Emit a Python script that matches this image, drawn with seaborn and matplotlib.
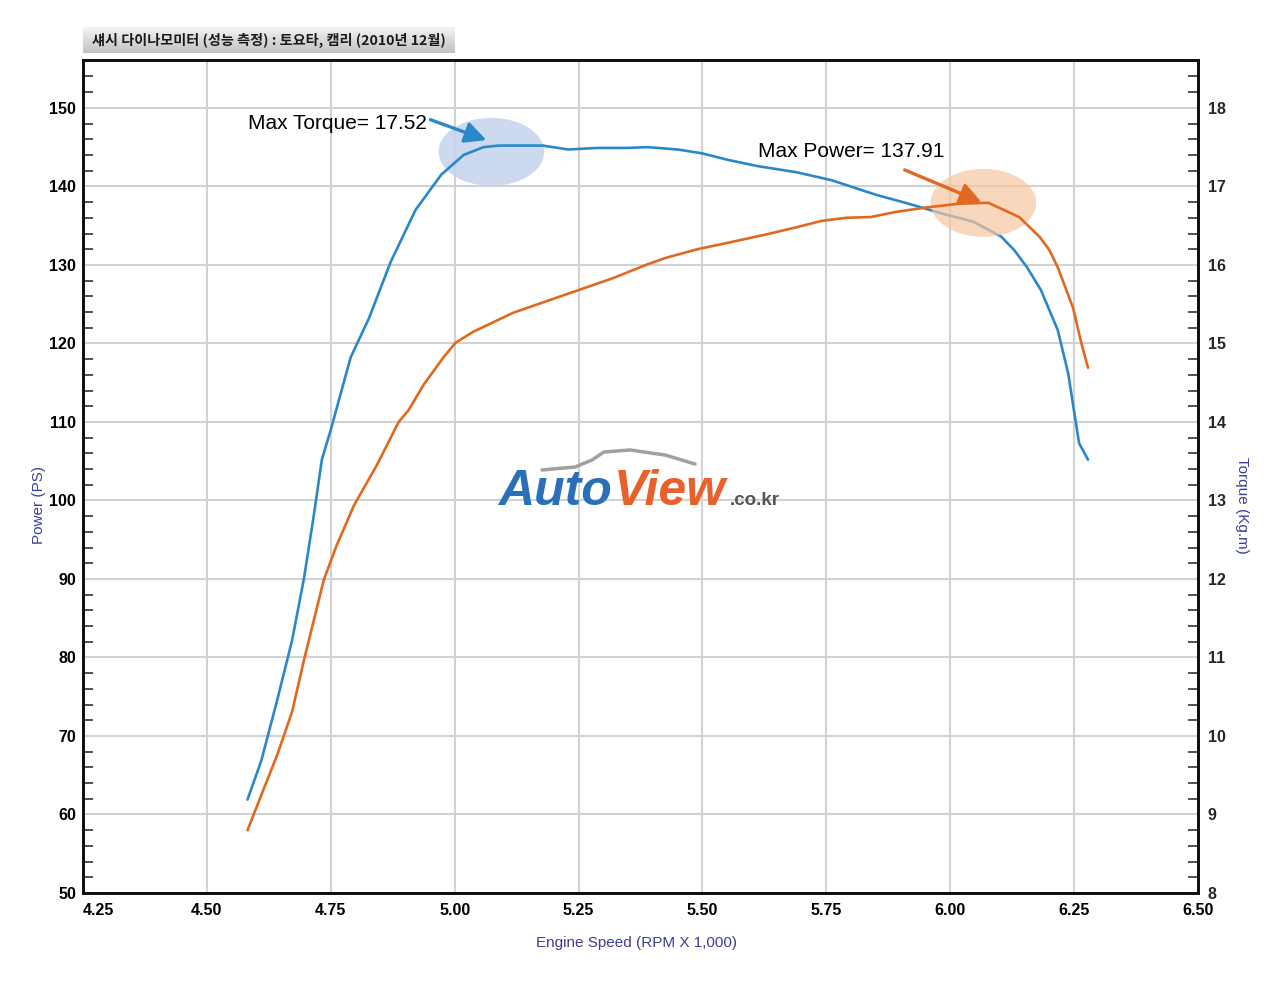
import numpy as np
import matplotlib
matplotlib.use("Agg")
import matplotlib.pyplot as plt
import seaborn as sns
from matplotlib.patches import Ellipse
from matplotlib.lines import Line2D
from matplotlib.ticker import MultipleLocator, FormatStrFormatter

# Torque curve (Kg.m) vs engine speed (x1000 rpm)
torque_rpm = [4.582, 4.61, 4.642, 4.672, 4.696, 4.716, 4.732, 4.75, 4.79, 4.827,
              4.871, 4.921, 4.973, 5.018, 5.058, 5.088, 5.178, 5.229, 5.289, 5.349,
              5.39, 5.45, 5.50, 5.55, 5.61, 5.69, 5.76, 5.852, 5.91, 5.992,
              6.047, 6.103, 6.129, 6.155, 6.183, 6.217, 6.238, 6.26, 6.278]
torque = [9.19, 9.69, 10.46, 11.22, 12.01, 12.82, 13.52, 13.9, 14.82, 15.32,
          16.04, 16.70, 17.15, 17.40, 17.50, 17.52, 17.52, 17.47, 17.49, 17.49,
          17.50, 17.47, 17.42, 17.34, 17.26, 17.18, 17.08, 16.89, 16.79, 16.64,
          16.55, 16.36, 16.19, 15.97, 15.68, 15.17, 14.62, 13.73, 13.52]

# Power curve (PS) vs engine speed
power_rpm = [4.582, 4.61, 4.642, 4.672, 4.696, 4.716, 4.736, 4.762, 4.797, 4.843,
             4.887, 4.907, 4.937, 4.977, 5.002, 5.038, 5.118, 5.209, 5.319, 5.39,
             5.426, 5.49, 5.55, 5.63, 5.69, 5.74, 5.79, 5.84, 5.89, 5.95,
             6.018, 6.077, 6.139, 6.18, 6.20, 6.217, 6.248, 6.264, 6.278]
power = [58.0, 62.5, 67.6, 73.1, 79.7, 84.8, 89.9, 94.3, 99.4, 104.5,
         110.0, 111.5, 114.7, 118.2, 120.1, 121.5, 123.9, 125.9, 128.3, 130.1,
         130.9, 132.0, 132.8, 133.9, 134.8, 135.6, 136.0, 136.1, 136.75, 137.3,
         137.8, 137.91, 136.1, 133.6, 131.9, 129.7, 124.5, 120.2, 116.9]

x_ticks = [4.25, 4.50, 4.75, 5.00, 5.25, 5.50, 5.75, 6.00, 6.25, 6.50]
power_ticks = [50, 60, 70, 80, 90, 100, 110, 120, 130, 140, 150]
torque_ticks = [8, 9, 10, 11, 12, 13, 14, 15, 16, 17, 18]

title = "섀시 다이나모미터 (성능 측정) : 토요타, 캠리 (2010년 12월)"
max_torque_label = "Max Torque= 17.52"
max_power_label = "Max Power= 137.91"

BLUE = "#2b88c8"
ORANGE = "#e0691f"
LABEL_C = "#3b3f96"
SANS = ["Liberation Sans", "DejaVu Sans"]

sns.set_style("white")
plt.rcParams["font.family"] = SANS

fig = plt.figure(figsize=(12.8, 9.86), dpi=100)
W, H = 1280, 986
ax = fig.add_axes([83 / W, 1 - 893 / H, (1198 - 83) / W, (893 - 60) / H])
ax2 = ax.twinx()

# power axis drawn above torque axis so orange highlight sits over the blue line
ax.set_zorder(ax2.get_zorder() + 1)
ax.patch.set_visible(False)

ax.set_xlim(4.25, 6.50)
ax.set_ylim(50, 156.1)
ax2.set_ylim(8, 18.61)

# grid lives on the lower (torque) axis
ax2.xaxis.set_visible(True)
ax2.set_xticks(x_ticks)
ax2.set_yticks(torque_ticks)
ax2.grid(True, color="#d2d2d2", lw=1.5)
ax2.set_axisbelow(True)
ax2.tick_params(axis="x", which="both", bottom=False, top=False,
                labelbottom=False, labeltop=False)

# torque: highlight + line
ax2.add_patch(Ellipse((5.074, 17.44), 0.213, 0.866, facecolor="#c3d3ec",
                      edgecolor="none", alpha=0.85, zorder=1))
sns.lineplot(x=torque_rpm, y=torque, ax=ax2, color=BLUE, lw=1.9, zorder=3)

# power: highlight + line
ax.add_patch(Ellipse((6.067, 137.9), 0.213, 8.66, facecolor="#f6c6a1",
                     edgecolor="none", alpha=0.7, zorder=1))
sns.lineplot(x=power_rpm, y=power, ax=ax, color=ORANGE, lw=1.9, zorder=3)

# ticks
ax.set_xticks(x_ticks)
ax.set_yticks(power_ticks)
ax.xaxis.set_minor_locator(MultipleLocator(0.05))
ax.yaxis.set_minor_locator(MultipleLocator(2))
ax2.yaxis.set_minor_locator(MultipleLocator(0.2))
ax.xaxis.set_major_formatter(FormatStrFormatter("%.2f"))

ax.tick_params(axis="both", which="major", length=0, pad=5, labelsize=11.5, colors="black")
ax.tick_params(axis="x", which="major", pad=7)
ax.tick_params(axis="both", which="minor", direction="in", length=7, width=1.1, color="#222222")
ax.tick_params(axis="x", which="both", top=False)
ax2.tick_params(axis="y", which="major", length=0, pad=7, labelsize=11.5)
ax2.tick_params(axis="y", which="minor", direction="in", length=7, width=1.1, color="#222222")

for lab in ax.get_xticklabels() + ax.get_yticklabels() + ax2.get_yticklabels():
    lab.set_fontweight("bold")
ax.get_xticklabels()[0].set_ha("left")

for a in (ax, ax2):
    for s in a.spines.values():
        s.set_color("#111111")
        s.set_linewidth(2)

ax.set_xlabel("")
ax.set_ylabel("")
ax2.set_ylabel("")
fig.text(637 / W, 1 - 943 / H, "Engine Speed (RPM X 1,000)", ha="center", va="center",
         fontsize=11, color=LABEL_C)
fig.text(39 / W, 1 - 505 / H, "Power (PS)", ha="center", va="center", rotation=90,
         fontsize=11, color=LABEL_C)
fig.text(1242 / W, 1 - 505 / H, "Torque (Kg.m)", ha="center", va="center", rotation=-90,
         fontsize=11, color=LABEL_C)

# annotations
ax.text(4.943, 147.96, max_torque_label, ha="right", va="center", fontsize=15, color="black")
ax.annotate("", xy=(5.064, 145.9), xytext=(4.951, 148.5),
            arrowprops=dict(arrowstyle="-|>", color=BLUE, lw=2.4, mutation_scale=32,
                            shrinkA=0, shrinkB=0))
ax.text(5.988, 144.4, max_power_label, ha="right", va="center", fontsize=15, color="black")
ax.annotate("", xy=(6.063, 138.0), xytext=(5.908, 142.1),
            arrowprops=dict(arrowstyle="-|>", color=ORANGE, lw=2.4, mutation_scale=32,
                            shrinkA=0, shrinkB=0))

# title box with grey gradient
tax = fig.add_axes([83 / W, 1 - 53 / H, (455 - 83) / W, 26 / H])
grad = np.linspace(0.96, 0.76, 64).reshape(-1, 1)
tax.imshow(grad, aspect="auto", cmap="gray", vmin=0, vmax=1, extent=[0, 1, 0, 1])
tax.set_axis_off()
tax.text(0.5, 0.5, title, ha="center", va="center", fontsize=10.2, fontweight="bold",
         family=["Noto Sans CJK KR", "DejaVu Sans"], color="#1a1a1a",
         transform=tax.transAxes)

# watermark logo
fig.text(498 / W, 1 - 505 / H, "Auto", fontsize=36, fontweight="bold", style="italic",
         color="#2a6fb8", ha="left", va="baseline")
fig.text(614 / W, 1 - 505 / H, "View", fontsize=36, fontweight="bold", style="italic",
         color="#e8602a", ha="left", va="baseline")
fig.text(730 / W, 1 - 505 / H, ".co.kr", fontsize=13.5, fontweight="bold",
         color="#555555", ha="left", va="baseline")
sx = np.array([542, 575, 592, 604, 630, 665, 695]) / W
sy = 1 - np.array([470, 467, 460, 452, 450, 455, 464]) / H
fig.add_artist(Line2D(sx, sy, color="#a0a0a0", lw=2.5, solid_capstyle="round",
                      transform=fig.transFigure))

fig.savefig("out.png", dpi=100, facecolor="white")
